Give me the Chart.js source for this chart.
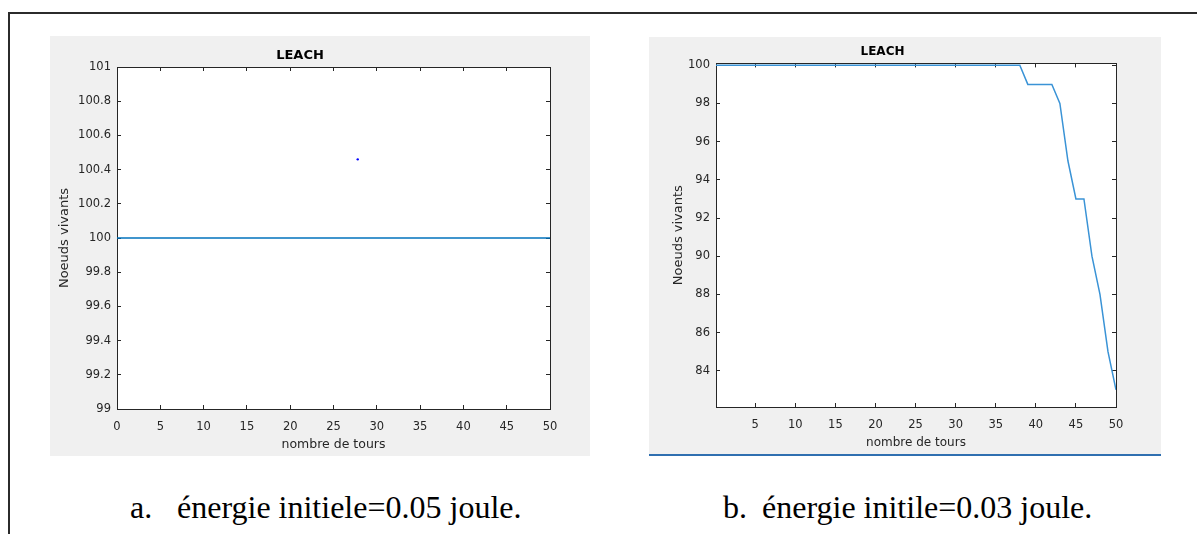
<!DOCTYPE html>
<html>
<head>
<meta charset="utf-8">
<script src="https://cdn.jsdelivr.net/npm/chart.js@4"></script>
<style>
  body { margin: 0; width: 1197px; height: 534px; overflow: hidden; background: #fff; position: relative; }
  #frame { position: absolute; left: 8px; top: 12px; width: 1400px; height: 700px; border-left: 2px solid #2b2b2b; border-top: 2px solid #2b2b2b; }
  .panel { position: absolute; background: #f0f0f0; }
  #panelA { left: 50px; top: 36px; width: 540px; height: 420px; }
  #panelB { left: 649px; top: 37px; width: 512px; height: 417px; border-bottom: 2px solid #2f6fb0; }
  .cap { position: absolute; top: 491px; font-family: "Liberation Serif", "Times New Roman", serif; font-size: 32px; line-height: 32px; white-space: nowrap; color: #000; }
</style>
</head>
<body>
<div id="frame"></div>
<div class="panel" id="panelA"><canvas id="chartA" width="540" height="420"></canvas></div>
<div class="panel" id="panelB"><canvas id="chartB" width="512" height="417"></canvas></div>
<span class="cap" style="left:130px">a.</span>
<span class="cap" style="left:177px">énergie initiele=0.05 joule.</span>
<span class="cap" style="left:723px">b.</span>
<span class="cap" style="left:762px">énergie initile=0.03 joule.</span>
<script>
// panel a : 0.05 J
const roundsA = [0, 1, 2, 3, 4, 5, 6, 7, 8, 9, 10, 11, 12, 13, 14, 15, 16, 17, 18, 19, 20,
  21, 22, 23, 24, 25, 26, 27, 28, 29, 30, 31, 32, 33, 34, 35, 36, 37, 38, 39, 40,
  41, 42, 43, 44, 45, 46, 47, 48, 49, 50]
const aliveA = [100, 100, 100, 100, 100, 100, 100, 100, 100, 100, 100, 100, 100, 100, 100, 100, 100,
  100, 100, 100, 100, 100, 100, 100, 100, 100, 100, 100, 100, 100, 100, 100, 100, 100,
  100, 100, 100, 100, 100, 100, 100, 100, 100, 100, 100, 100, 100, 100, 100, 100, 100]
const strayX = [27.8]
const strayY = [100.46]
const xTicksA = [0, 5, 10, 15, 20, 25, 30, 35, 40, 45, 50]
const yTicksA = [99, 99.2, 99.4, 99.6, 99.8, 100, 100.2, 100.4, 100.6, 100.8, 101]
const yLabelsA = ['99', '99.2', '99.4', '99.6', '99.8', '100', '100.2', '100.4', '100.6', '100.8', '101']

// panel b : 0.03 J
const roundsB = [0, 1, 2, 3, 4, 5, 6, 7, 8, 9, 10, 11, 12, 13, 14, 15, 16, 17, 18, 19, 20,
  21, 22, 23, 24, 25, 26, 27, 28, 29, 30, 31, 32, 33, 34, 35, 36, 37, 38, 39, 40,
  41, 42, 43, 44, 45, 46, 47, 48, 49, 50]
const aliveB = [100, 100, 100, 100, 100, 100, 100, 100, 100, 100, 100, 100, 100, 100, 100, 100, 100,
  100, 100, 100, 100, 100, 100, 100, 100, 100, 100, 100, 100, 100, 100, 100, 100, 100,
  100, 100, 100, 100, 100, 99, 99, 99, 99, 98, 95, 93, 93, 90, 88, 85, 83]
const xTicksB = [5, 10, 15, 20, 25, 30, 35, 40, 45, 50]
const yTicksB = [84, 86, 88, 90, 92, 94, 96, 98, 100]
const yLabelsB = ['84', '86', '88', '90', '92', '94', '96', '98', '100']

Chart.defaults.font.family = "'DejaVu Sans', sans-serif"
Chart.defaults.color = '#262626'

let pts = (xs, ys) => xs.map((x, i) => ({ x: x, y: ys[i] }))
let fixTicks = (list) => (scale) => { scale.ticks = list.map(v => ({ value: v })) }

const dark = '#262626'
const grid = { drawOnChartArea: false, tickLength: -4, color: dark, lineWidth: 1 }
const border = { color: dark, width: 1 }

const whiteArea = {
  id: 'whiteArea',
  beforeDraw(chart) {
    const { ctx, chartArea: a } = chart
    ctx.save()
    ctx.fillStyle = '#fff'
    ctx.fillRect(a.left, a.top, a.width, a.height)
    ctx.restore()
  }
}

let makeChart = (id, s) => {
  const scales = {
    x: {
      type: 'linear', position: 'bottom', min: s.xMin, max: s.xMax,
      afterBuildTicks: fixTicks(s.xTicks),
      afterFit: (sc) => { sc.height = 47 },
      grid: grid, border: border,
      ticks: { padding: 15, maxRotation: 0, autoSkip: false, font: { size: 11.5 }, callback: (v) => String(v) },
      title: { display: true, text: 'nombre de tours', color: dark, font: { size: s.labelSize }, padding: { top: 4, bottom: 4 } }
    },
    x2: {
      type: 'linear', position: 'top', min: s.xMin, max: s.xMax,
      afterBuildTicks: fixTicks(s.xTicks),
      afterFit: (sc) => { sc.height = 0 },
      grid: grid, border: border, ticks: { display: false }
    },
    y: {
      type: 'linear', position: 'left', min: s.yMin, max: s.yMax,
      afterBuildTicks: fixTicks(s.yTicks),
      afterFit: (sc) => { sc.width = 67 },
      grid: grid, border: border,
      ticks: { padding: 10, autoSkip: false, font: { size: 11.5 }, callback: (v, i) => s.yLabels[i] },
      title: { display: true, text: 'Noeuds vivants', color: dark, font: { size: 13 }, padding: { top: s.yTitlePad, bottom: 0 } }
    },
    y2: {
      type: 'linear', position: 'right', min: s.yMin, max: s.yMax,
      afterBuildTicks: fixTicks(s.yTicks),
      afterFit: (sc) => { sc.width = 0 },
      grid: grid, border: border, ticks: { display: false }
    }
  }

  return new Chart(document.getElementById(id), {
    type: 'line',
    data: { datasets: s.datasets },
    options: {
      responsive: false,
      animation: false,
      devicePixelRatio: 1,
      layout: { padding: { left: 0, right: s.padRight, top: 0, bottom: 0 } },
      plugins: {
        legend: { display: false },
        tooltip: { enabled: false },
        title: { display: true, text: 'LEACH', color: '#000', font: { size: s.titleSize, weight: 'bold' }, padding: s.titlePad }
      },
      scales: scales
    },
    plugins: [whiteArea]
  })
}

makeChart('chartA', {
  datasets: [
    { data: pts(roundsA, aliveA), borderColor: '#0072bd', borderWidth: 1.3, pointRadius: 0, tension: 0 },
    { data: pts(strayX, strayY), showLine: false, pointRadius: 1.2, pointBackgroundColor: '#0000ff', pointBorderColor: '#0000ff', pointBorderWidth: 0 }
  ],
  xMin: 0, xMax: 50, yMin: 99, yMax: 101,
  xTicks: xTicksA, yTicks: yTicksA, yLabels: yLabelsA,
  padRight: 40, titleSize: 13, titlePad: { top: 12, bottom: 3.4 }, labelSize: 12.5, yTitlePad: 7
})

makeChart('chartB', {
  datasets: [
    { data: pts(roundsB, aliveB), borderColor: '#3a93d6', borderWidth: 1.5, pointRadius: 0, tension: 0 }
  ],
  xMin: 0.1, xMax: 50, yMin: 82.1, yMax: 100.1,
  xTicks: xTicksB, yTicks: yTicksB, yLabels: yLabelsB,
  padRight: 45, titleSize: 12, titlePad: { top: 8, bottom: 4 }, labelSize: 12, yTitlePad: 22
})
</script>
</body>
</html>
